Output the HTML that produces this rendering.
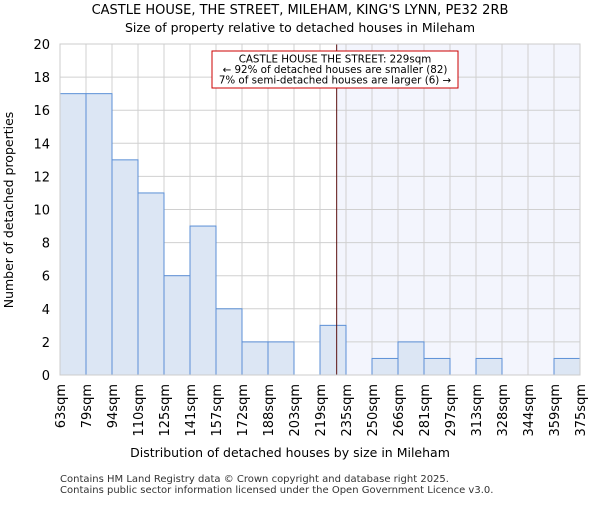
<!DOCTYPE html>
<html><head><meta charset="utf-8"><style>body{margin:0;background:#fff}svg{font-family:"DejaVu Sans","Liberation Sans",sans-serif}</style></head>
<body>
<svg id="c" width="600" height="500">
<text x="300" y="14" text-anchor="middle" font-size="13">CASTLE HOUSE, THE STREET, MILEHAM, KING'S LYNN, PE32 2RB</text>
<text x="300" y="32" text-anchor="middle" font-size="12.5">Size of property relative to detached houses in Mileham</text>
<g id="g"></g>
<text x="290" y="457" text-anchor="middle" font-size="12.5">Distribution of detached houses by size in Mileham</text>
<text transform="translate(13,210) rotate(-90)" text-anchor="middle" font-size="12.5">Number of detached properties</text>
<text x="60" y="482" font-size="10" fill="#333">Contains HM Land Registry data © Crown copyright and database right 2025.</text>
<text x="60" y="493" font-size="10" fill="#333">Contains public sector information licensed under the Open Government Licence v3.0.</text>
</svg>
<script>
const labels=["63sqm","79sqm","94sqm","110sqm","125sqm","141sqm","157sqm","172sqm","188sqm","203sqm","219sqm","235sqm","250sqm","266sqm","281sqm","297sqm","313sqm","328sqm","344sqm","359sqm","375sqm"];
const counts=[17,17,13,11,6,9,4,2,2,0,3,0,1,2,1,0,1,0,0,1];
const yTicks=[0,2,4,6,8,10,12,14,16,18,20];
const markerValue=229;
const binStart=63, binWidth=15.6;
const L=60,R=580,T=44,B=375,yMax=20;
const n=counts.length, bw=(R-L)/n;
const x=i=>L+i*bw, xv=v=>L+(v-binStart)/binWidth*bw, y=v=>B-v/yMax*(B-T);
const g=document.getElementById('g'), NS="http://www.w3.org/2000/svg";
function mk(t,a){const e=document.createElementNS(NS,t);for(const k in a)e.setAttribute(k,a[k]);g.appendChild(e);return e;}
const mx=xv(markerValue);
let e=mk('rect',{x:mx,y:T,width:R-mx,height:B-T,fill:'#f3f5fd'});


yTicks.forEach(t=>{let l=mk('line',{x1:L,x2:R,y1:y(t),y2:y(t),stroke:'#d0d0d0'});


let tx=mk('text',{x:L-10,y:y(t)+5,'text-anchor':'end','font-size':13});tx.textContent=t;

});
labels.forEach((s,i)=>{let l=mk('line',{x1:x(i),x2:x(i),y1:T,y2:B,stroke:'#d0d0d0'});


let tx=mk('text',{transform:`translate(${x(i)+5},${B+9}) rotate(-90)`,'text-anchor':'end','font-size':13});tx.textContent=s;

});
counts.forEach((c,i)=>{if(!c)return;let r=mk('rect',{x:x(i),y:y(c),width:bw,height:B-y(c),fill:'#dce6f4',stroke:'#5b8fd6','stroke-width':1});

});
let ml=mk('line',{x1:mx,x2:mx,y1:T,y2:B,stroke:'#5a1010','stroke-width':1});


let bx=mk('rect',{x:212,y:51,width:246,height:37,fill:'#fff',stroke:'#cc0000','stroke-width':1});


["CASTLE HOUSE THE STREET: 229sqm","← 92% of detached houses are smaller (82)","7% of semi-detached houses are larger (6) →"].forEach((s,i)=>{let t=mk('text',{x:335,y:62.5+i*10.5,'text-anchor':'middle','font-size':10.3});t.textContent=s;

});
let ax=mk('rect',{x:L,y:T,width:R-L,height:B-T,fill:'none',stroke:'#ccc'});


</script>
</body></html>
